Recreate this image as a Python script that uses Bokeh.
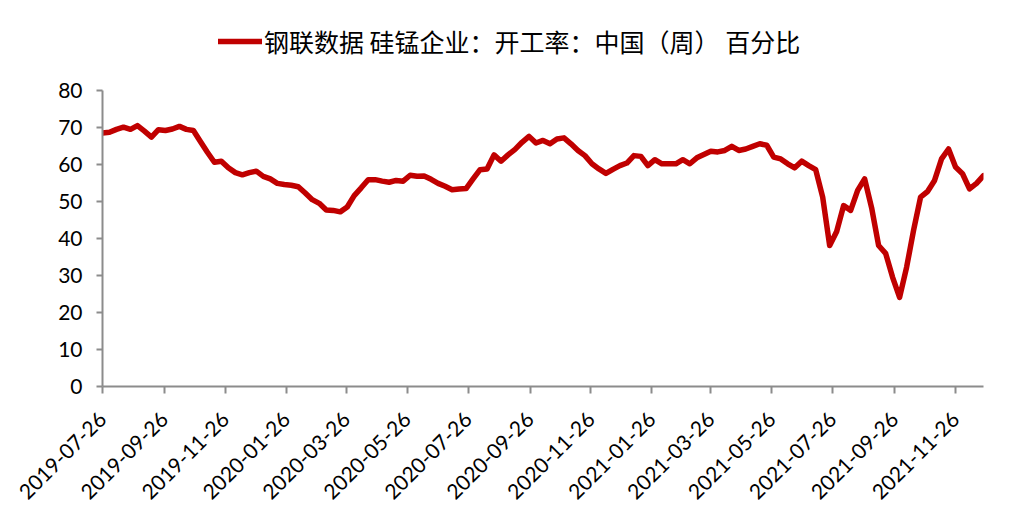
import pandas as pd
from bokeh.plotting import figure
from bokeh.models import (Range1d, FixedTicker, DatetimeTickFormatter, Legend, LegendItem,
                          ColumnDataSource)
from bokeh.embed import file_html
from bokeh.resources import INLINE
import math

# ---- data ----
start_date = "2019-07-26"
series_name = "钢联数据 硅锰企业：开工率：中国（周） 百分比"
values = [
    68.5, 68.7, 69.5, 70.1, 69.5, 70.5, 69.0, 67.4, 69.4, 69.2,
    69.6, 70.3, 69.5, 69.2, 66.2, 63.3, 60.6, 60.9, 59.1, 57.8,
    57.2, 57.8, 58.2, 56.8, 56.1, 54.9, 54.6, 54.4, 54.0, 52.3,
    50.5, 49.5, 47.7, 47.6, 47.2, 48.5, 51.6, 53.7, 55.9, 55.9,
    55.5, 55.2, 55.7, 55.5, 57.1, 56.8, 56.9, 56.0, 54.9, 54.1,
    53.2, 53.4, 53.5, 56.1, 58.6, 58.8, 62.6, 60.9, 62.6, 64.1,
    66.0, 67.6, 65.8, 66.5, 65.6, 66.9, 67.2, 65.6, 63.8, 62.4,
    60.2, 58.8, 57.6, 58.7, 59.7, 60.4, 62.4, 62.2, 59.7, 61.3,
    60.2, 60.2, 60.2, 61.3, 60.2, 61.8, 62.7, 63.6, 63.4, 63.8,
    64.9, 63.8, 64.2, 64.9, 65.6, 65.2, 62.0, 61.5, 60.2, 59.1,
    60.9, 59.7, 58.6, 51.2, 38.1, 41.9, 48.9, 47.6, 53.0, 56.1,
    48.3, 38.1, 36.0, 29.5, 24.1, 32.2, 42.2, 51.2, 52.7, 55.7,
    61.5, 64.2, 59.3, 57.5, 53.4, 54.9, 57.0,
]
x_tick_labels = [
    "2019-07-26", "2019-09-26", "2019-11-26", "2020-01-26", "2020-03-26",
    "2020-05-26", "2020-07-26", "2020-09-26", "2020-11-26", "2021-01-26",
    "2021-03-26", "2021-05-26", "2021-07-26", "2021-09-26", "2021-11-26",
]
y_ticks = [0, 10, 20, 30, 40, 50, 60, 70, 80]
y_max = 80

dates = pd.date_range(start_date, periods=len(values), freq="7D")
source = ColumnDataSource(dict(date=dates, value=values))

def to_ms(s):
    return pd.Timestamp(s).value / 1e6

# layout (pixels): frame spans top=10 .. bottom=386; the 0..80 axis occupies 90..386
W, H = 1003, 515
frame_top, axis_top, frame_bottom = 10, 90, 386
y_top = y_max * (frame_bottom - frame_top) / (frame_bottom - axis_top)

p = figure(width=W, height=H, x_axis_type="datetime",
           output_backend="svg", toolbar_location=None,
           min_border_left=102, min_border_right=20,
           min_border_top=frame_top, min_border_bottom=H - frame_bottom,
           x_range=Range1d(to_ms(dates[0]), to_ms(dates[-1])),
           y_range=Range1d(0, y_top))
p.outline_line_color = None
p.grid.grid_line_color = None
p.background_fill_color = "white"
p.border_fill_color = "white"

r = p.line("date", "value", source=source, line_color="#C00000", line_width=5.5,
           line_join="round", line_cap="round")

axis_col = "#8c8c8c"
for ax in (p.xaxis[0], p.yaxis[0]):
    ax.axis_line_color = axis_col
    ax.axis_line_width = 2
    ax.major_tick_line_color = axis_col
    ax.major_tick_line_width = 2
    ax.minor_tick_line_color = None
    ax.major_tick_in = 0
    ax.major_label_text_font = "Lato"
    ax.major_label_text_font_size = "21px"
    ax.major_label_text_color = "black"

p.yaxis[0].ticker = FixedTicker(ticks=y_ticks)
p.yaxis[0].bounds = (0, y_max)
p.yaxis[0].major_tick_out = 6
p.yaxis[0].major_label_standoff = 14

p.xaxis[0].ticker = FixedTicker(ticks=[to_ms(s) for s in x_tick_labels])
fmt = "%Y-%m-%d"
p.xaxis[0].formatter = DatetimeTickFormatter(days=fmt, months=fmt, years=fmt,
                                             hours=fmt, minutes=fmt)
p.xaxis[0].major_tick_out = 7
p.xaxis[0].major_label_orientation = math.pi / 4
p.xaxis[0].major_label_standoff = 22

legend = Legend(items=[LegendItem(label=series_name, renderers=[r])],
                location=(116, 327), orientation="horizontal",
                label_text_font="Noto Sans CJK SC", label_text_font_size="25px",
                label_text_color="black", glyph_width=44, glyph_height=20,
                label_standoff=2, padding=0, margin=0,
                border_line_color=None, background_fill_alpha=0)
p.add_layout(legend, "center")

open("out.html", "w").write(file_html(p, INLINE))
